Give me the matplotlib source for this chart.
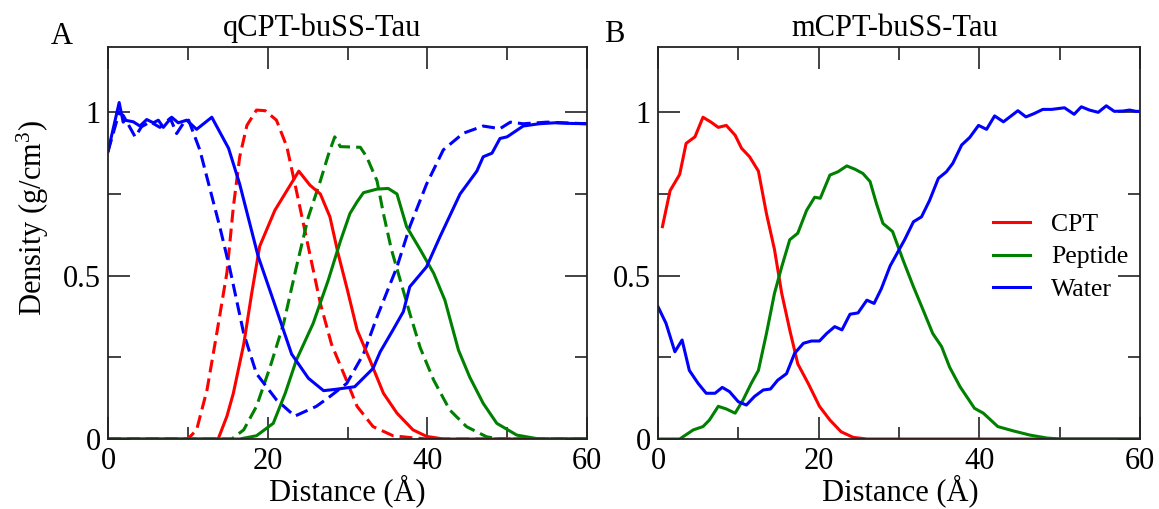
import matplotlib
matplotlib.use("Agg")
import matplotlib.pyplot as plt
from matplotlib.ticker import MultipleLocator

plt.rcParams['font.family'] = ['Liberation Serif', 'DejaVu Serif']
plt.rcParams['mathtext.fontset'] = 'custom'
plt.rcParams['mathtext.rm'] = 'Liberation Serif'
plt.rcParams['mathtext.it'] = 'Liberation Serif:italic'

# ---------------- qCPT-buSS-Tau (solid / dashed profiles) ----------------
q_cpt_x = [0, 13.8, 14.9, 15.7, 17.0, 18.0, 19.0, 20.9, 22.4, 23.9, 25.3, 26.6, 27.8,
           28.8, 30.0, 31.2, 32.8, 34.5, 36.2, 38.2, 39.9, 42, 60]
q_cpt_y = [0, 0, 0.07, 0.14, 0.29, 0.446, 0.59, 0.70, 0.76, 0.82, 0.777, 0.75, 0.68,
           0.57, 0.455, 0.334, 0.242, 0.14, 0.079, 0.028, 0.008, 0, 0]

q_cpt2_x = [0, 10.0, 11.1, 12.4, 13.6, 14.9, 15.7, 16.5, 17.4, 18.6, 19.7, 21.1, 22.4,
            23.6, 24.9, 26.6, 28.0, 29.7, 31.2, 33.2, 35.7, 38, 40, 60]
q_cpt2_y = [0, 0, 0.028, 0.15, 0.32, 0.51, 0.71, 0.864, 0.96, 1.007, 1.005, 0.976, 0.895,
            0.76, 0.61, 0.415, 0.29, 0.19, 0.10, 0.038, 0.01, 0.004, 0, 0]

q_pep_x = [0, 16.5, 18.6, 20.7, 22.2, 23.6, 25.7, 27.6, 29.1, 30.3, 31.2, 32.0, 33.7,
           35.1, 36.2, 37.4, 39.1, 40.8, 42.2, 43.9, 45.3, 47.0, 48.7, 51.2, 54, 60]
q_pep_y = [0, 0, 0.01, 0.048, 0.14, 0.242, 0.354, 0.487, 0.605, 0.69, 0.726, 0.754, 0.765,
           0.767, 0.75, 0.65, 0.58, 0.507, 0.425, 0.272, 0.19, 0.109, 0.048, 0.012, 0, 0]

q_pep2_x = [0, 15.5, 17.0, 18.6, 20.3, 22.0, 23.6, 25.1, 26.6, 27.6, 28.4, 29.1, 31.6,
            32.4, 33.7, 34.5, 35.5, 36.6, 37.8, 39.1, 40.8, 42.8, 44.9, 47.4, 49, 60]
q_pep2_y = [0, 0, 0.028, 0.10, 0.22, 0.354, 0.527, 0.68, 0.79, 0.87, 0.925, 0.895, 0.893,
            0.864, 0.79, 0.69, 0.58, 0.487, 0.385, 0.28, 0.18, 0.089, 0.038, 0.007, 0, 0]

q_wat_x = [0, 1.4, 1.9, 2.13, 3.17, 4.0, 4.85, 5.68, 6.3, 6.93, 7.97, 8.8, 9.86, 11.1,
           13.0, 15.1, 16.5, 18.8, 20.7, 23.0, 25.1, 27.0, 28.5, 30.9, 33.2, 34.1, 35.7,
           37.0, 37.8, 39.9, 41.6, 44.1, 46.2, 47.0, 48.1, 49.1, 50.0, 52.0, 54, 56, 58, 60]
q_wat_y = [0.88, 1.03, 0.97, 0.976, 0.971, 0.958, 0.978, 0.968, 0.976, 0.954, 0.985, 0.968,
           0.976, 0.948, 0.985, 0.89, 0.78, 0.56, 0.425, 0.26, 0.186, 0.148, 0.152, 0.16,
           0.216, 0.267, 0.334, 0.39, 0.466, 0.527, 0.62, 0.75, 0.82, 0.864, 0.875, 0.92,
           0.925, 0.958, 0.965, 0.968, 0.966, 0.965]

q_wat2_x = [0, 1.4, 1.92, 3.4, 4.2, 5.3, 6.5, 7.8, 8.6, 9.4, 10.1, 11.5, 14.0, 15.3, 17.0,
            18.6, 21.1, 23.4, 26.1, 27.8, 29.9, 32.0, 33.7, 36.2, 37.8, 39.9, 42.0, 44.5,
            47.0, 49.1, 50.4, 52, 55, 60]
q_wat2_y = [0.88, 1.0, 0.99, 0.925, 0.956, 0.971, 0.954, 0.982, 0.935, 0.965, 0.976, 0.885,
            0.65, 0.517, 0.323, 0.20, 0.12, 0.07, 0.10, 0.13, 0.17, 0.26, 0.374, 0.527,
            0.65, 0.78, 0.885, 0.936, 0.958, 0.95, 0.97, 0.965, 0.97, 0.965]

# ---------------- mCPT-buSS-Tau ----------------
m_cpt_x = [0.55, 1.5, 2.7, 3.5, 4.6, 5.6, 6.6, 7.5, 8.5, 9.6, 10.4, 11.4, 12.5, 13.5, 14.5,
           15.4, 16.4, 17.4, 18.7, 20.1, 21.4, 22.8, 24.3, 26, 60]
m_cpt_y = [0.65, 0.76, 0.81, 0.905, 0.925, 0.985, 0.97, 0.954, 0.96, 0.93, 0.89, 0.864, 0.82,
           0.69, 0.58, 0.446, 0.334, 0.23, 0.17, 0.10, 0.058, 0.022, 0.005, 0, 0]

m_pep_x = [0, 2.7, 4.4, 5.6, 6.4, 7.5, 8.5, 9.6, 10.6, 11.6, 12.5, 13.5, 14.5, 15.4, 16.4,
           17.4, 18.5, 19.5, 20.2, 21.4, 22.4, 23.5, 24.5, 25.5, 26.4, 27.2, 28.0, 29.2,
           30.5, 31.8, 33.0, 34.2, 35.3, 36.3, 37.6, 39.4, 40.5, 42.3, 44.2, 46.3, 48.4, 50, 60]
m_pep_y = [0, 0, 0.028, 0.038, 0.058, 0.10, 0.092, 0.079, 0.12, 0.17, 0.21, 0.323, 0.446,
           0.527, 0.61, 0.63, 0.70, 0.74, 0.737, 0.808, 0.818, 0.836, 0.826, 0.813, 0.788,
           0.72, 0.66, 0.635, 0.548, 0.466, 0.395, 0.323, 0.283, 0.22, 0.16, 0.094, 0.079,
           0.038, 0.025, 0.012, 0.003, 0, 0]

m_wat_x = [0, 1.0, 2.1, 3.0, 3.9, 5.0, 6.0, 7.1, 8.0, 8.9, 10.0, 11.0, 12.0, 13.1, 14.0, 14.9,
           16.0, 17.0, 18.1, 19.1, 20.1, 21.0, 22.0, 22.9, 23.9, 24.9, 26.0, 26.9, 27.8, 28.9,
           30.7, 31.8, 32.8, 33.8, 34.9, 35.9, 36.7, 37.8, 38.8, 39.9, 40.9, 41.9, 43.0, 43.8,
           44.8, 45.8, 46.8, 47.9, 49.0, 50.6, 51.8, 52.7, 53.7, 54.8, 55.8, 56.8, 57.9, 58.7,
           59.5, 60]
m_wat_y = [0.405, 0.354, 0.267, 0.303, 0.21, 0.17, 0.14, 0.14, 0.158, 0.145, 0.114, 0.104,
           0.13, 0.15, 0.153, 0.18, 0.2, 0.262, 0.293, 0.30, 0.30, 0.323, 0.344, 0.334, 0.382,
           0.386, 0.425, 0.415, 0.46, 0.53, 0.61, 0.665, 0.68, 0.73, 0.798, 0.818, 0.844, 0.90,
           0.923, 0.96, 0.948, 0.989, 0.971, 0.986, 1.005, 0.986, 0.996, 1.009, 1.009, 1.014,
           0.994, 1.017, 1.007, 1.0, 1.02, 1.003, 1.004, 1.007, 1.003, 1.003]

RED, GREEN, BLUE = '#ff0000', '#008000', '#0000ff'
LW = 2.2
DASH = (4.2, 2.0)
FS = 22

W, H = 1159, 509
fig = plt.figure(figsize=(W / 100, H / 100), dpi=100)


def px_axes(left, top, right, bottom):
    return fig.add_axes([left / W, 1 - bottom / H, (right - left) / W, (bottom - top) / H])


def style(ax):
    ax.set_xlim(0, 60)
    ax.set_ylim(0, 1.2)
    ax.xaxis.set_major_locator(MultipleLocator(20))
    ax.xaxis.set_minor_locator(MultipleLocator(10))
    ax.set_yticks([0, 0.5, 1])
    ax.set_yticklabels(['0', '0.5', '1'])
    ax.yaxis.set_minor_locator(MultipleLocator(0.25))
    ax.tick_params(which='both', direction='in', top=True, right=True,
                   width=1.2, color='#222222', labelsize=FS)
    ax.tick_params(which='major', length=16)
    ax.tick_params(which='minor', length=9)
    ax.tick_params(axis='y', pad=5)
    ax.tick_params(axis='x', pad=6)
    for s in ax.spines.values():
        s.set_linewidth(1.3)
        s.set_color('#222222')


axA = px_axes(108, 47, 587, 439)
axA.plot(q_cpt2_x, q_cpt2_y, color=RED, lw=LW, dashes=DASH)
axA.plot(q_pep2_x, q_pep2_y, color=GREEN, lw=LW, dashes=DASH)
axA.plot(q_wat2_x, q_wat2_y, color=BLUE, lw=LW, dashes=DASH)
axA.plot(q_cpt_x, q_cpt_y, color=RED, lw=LW)
axA.plot(q_pep_x, q_pep_y, color=GREEN, lw=LW)
axA.plot(q_wat_x, q_wat_y, color=BLUE, lw=LW)
style(axA)

axB = px_axes(658, 47, 1140, 439)
axB.plot(m_cpt_x, m_cpt_y, color=RED, lw=LW, label='CPT')
axB.plot(m_pep_x, m_pep_y, color=GREEN, lw=LW, label='Peptide')
axB.plot(m_wat_x, m_wat_y, color=BLUE, lw=LW, label='Water')
style(axB)
axB.legend(loc='center left', bbox_to_anchor=((993 - 658) / 482, (439 - 257) / 392),
           frameon=False, fontsize=18.5, handlelength=1.45, handletextpad=0.8,
           labelspacing=0.38, borderpad=0, borderaxespad=0)


def fig_text(x, y, s, **kw):
    fig.text(x / W, 1 - y / H, s, fontsize=FS, **kw)


fig_text(62, 37, 'A', ha='center', va='center')
fig_text(614, 35, 'B', ha='center', va='center')
fig_text(322, 36, 'qCPT-buSS-Tau', ha='center', va='baseline')
fig_text(895, 36, 'mCPT-buSS-Tau', ha='center', va='baseline')
fig_text(347, 491, 'Distance (Å)', ha='center', va='center')
fig_text(900, 491, 'Distance (Å)', ha='center', va='center')
fig_text(33, 218, 'Density (g/cm$^{3}$)', ha='center', va='center', rotation=90)

fig.savefig('out.png', dpi=100)
